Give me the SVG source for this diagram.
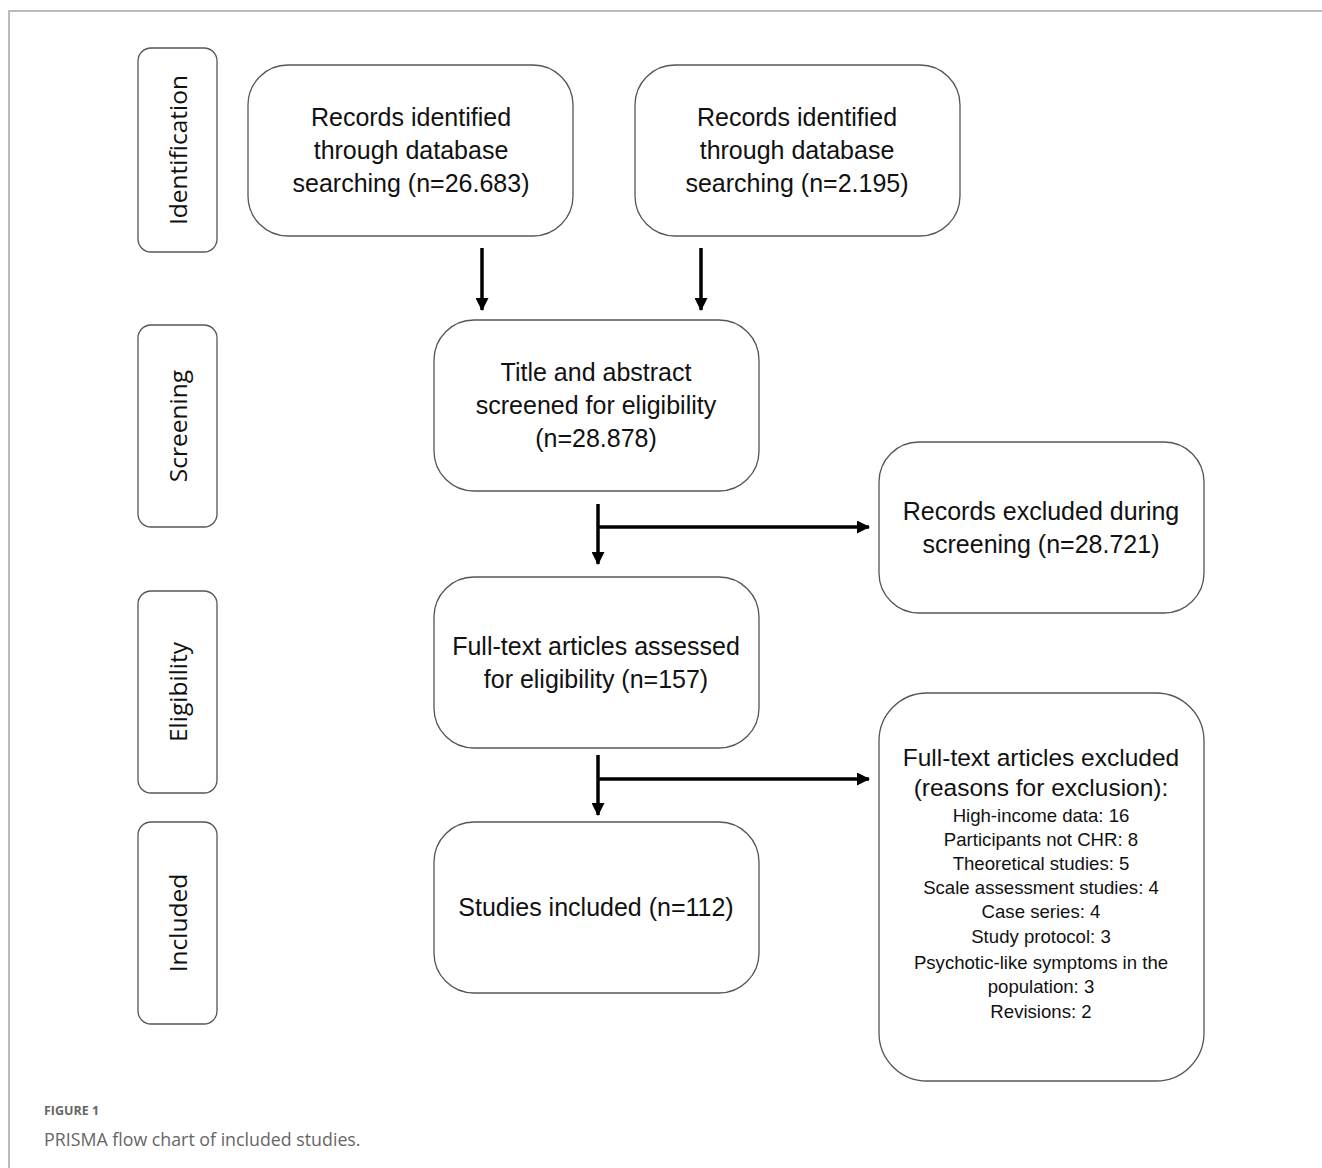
<svg xmlns="http://www.w3.org/2000/svg" width="1322" height="1168" viewBox="0 0 1322 1168">
<defs>
<style>
.box{fill:#fff;stroke:#555;stroke-width:1.3}
.side{fill:#fff;stroke:#555;stroke-width:1.3}
.t{font-family:"Liberation Sans",Arial,sans-serif;font-size:25px;fill:#111;text-anchor:middle}
.h{font-family:"Liberation Sans",Arial,sans-serif;font-size:24.5px;fill:#111;text-anchor:middle}
.s{font-family:"Open Sans","DejaVu Sans",sans-serif;font-size:24.5px;fill:#111;text-anchor:middle}
.l{font-family:"Liberation Sans",Arial,sans-serif;font-size:18.6px;fill:#111;text-anchor:middle}
.c{stroke:#000;stroke-width:3.5;fill:none}
</style>
<marker id="ah" viewBox="0 0 13 13" refX="12" refY="6.5" markerWidth="13" markerHeight="13" markerUnits="userSpaceOnUse" orient="auto">
<path d="M0,0 L13,6.5 L0,13 z" fill="#000"/>
</marker>
</defs>
<rect width="1322" height="1168" fill="#fff"/>
<path d="M9,1168 V11 H1322" fill="none" stroke="#bbb" stroke-width="2"/>

<g id="side-identification"><rect class="side" x="138" y="48" width="79" height="204" rx="13"/><text class="s" transform="translate(187,150) rotate(-90)">Identification</text></g>
<g id="side-screening"><rect class="side" x="138" y="325" width="79" height="202" rx="13"/><text class="s" transform="translate(187,426) rotate(-90)">Screening</text></g>
<g id="side-eligibility"><rect class="side" x="138" y="591" width="79" height="202" rx="13"/><text class="s" transform="translate(187,692) rotate(-90)">Eligibility</text></g>
<g id="side-included"><rect class="side" x="138" y="822" width="79" height="202" rx="13"/><text class="s" transform="translate(187,923) rotate(-90)">Included</text></g>

<g id="records1"><rect class="box" x="248" y="65" width="325" height="171" rx="40"/>
<text class="t" x="411" y="126">Records identified</text><text class="t" x="411" y="159">through database</text><text class="t" x="411" y="192">searching (n=26.683)</text></g>
<g id="records2"><rect class="box" x="635" y="65" width="325" height="171" rx="40"/>
<text class="t" x="797" y="126">Records identified</text><text class="t" x="797" y="159">through database</text><text class="t" x="797" y="192">searching (n=2.195)</text></g>
<g id="screened"><rect class="box" x="434" y="320" width="325" height="171" rx="40"/>
<text class="t" x="596" y="381">Title and abstract</text><text class="t" x="596" y="414">screened for eligibility</text><text class="t" x="596" y="447">(n=28.878)</text></g>
<g id="excluded-screening"><rect class="box" x="879" y="442" width="325" height="171" rx="40"/>
<text class="t" x="1041" y="520">Records excluded during</text><text class="t" x="1041" y="553">screening (n=28.721)</text></g>
<g id="fulltext"><rect class="box" x="434" y="577" width="325" height="171" rx="40"/>
<text class="t" x="596" y="655">Full-text articles assessed</text><text class="t" x="596" y="688">for eligibility (n=157)</text></g>
<g id="included"><rect class="box" x="434" y="822" width="325" height="171" rx="40"/>
<text class="t" x="596" y="916">Studies included (n=112)</text></g>
<g id="excluded-fulltext"><rect class="box" x="879" y="693" width="325" height="388" rx="48"/>
<text class="h" x="1041" y="766">Full-text articles excluded</text><text class="h" x="1041" y="796">(reasons for exclusion):</text>
<text class="l" x="1041" y="822">High-income data: 16</text>
<text class="l" x="1041" y="846">Participants not CHR: 8</text>
<text class="l" x="1041" y="870">Theoretical studies: 5</text>
<text class="l" x="1041" y="894">Scale assessment studies: 4</text>
<text class="l" x="1041" y="918">Case series: 4</text>
<text class="l" x="1041" y="943">Study protocol: 3</text>
<text class="l" x="1041" y="969">Psychotic-like symptoms in the</text>
<text class="l" x="1041" y="993">population: 3</text>
<text class="l" x="1041" y="1018">Revisions: 2</text></g>

<g id="connectors">
<line class="c" x1="482" y1="248" x2="482" y2="310" marker-end="url(#ah)"/>
<line class="c" x1="701" y1="248" x2="701" y2="310" marker-end="url(#ah)"/>
<line class="c" x1="598" y1="504" x2="598" y2="564" marker-end="url(#ah)"/>
<line class="c" x1="598" y1="527" x2="869" y2="527" marker-end="url(#ah)"/>
<line class="c" x1="598" y1="755" x2="598" y2="815" marker-end="url(#ah)"/>
<line class="c" x1="598" y1="779" x2="869" y2="779" marker-end="url(#ah)"/>
</g>

<text x="44" y="1115" font-family="'Open Sans','Liberation Sans',sans-serif" font-size="12.5" font-weight="bold" fill="#666">FIGURE 1</text>
<text x="44" y="1146" font-family="'Open Sans','Liberation Sans',sans-serif" font-size="17.8" fill="#666">PRISMA flow chart of included studies.</text>
</svg>
